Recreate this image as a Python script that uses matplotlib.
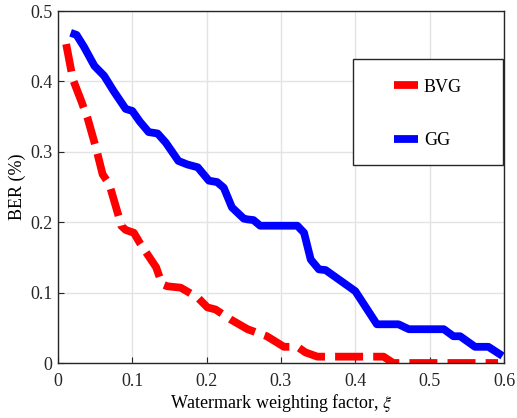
import numpy as np
import matplotlib
matplotlib.use("Agg")
import matplotlib.pyplot as plt
from matplotlib.patches import Rectangle
from matplotlib.lines import Line2D

# datos
gg_x = [0.017, 0.025, 0.035, 0.049, 0.062, 0.075, 0.091, 0.100, 0.110, 0.122, 0.134,
        0.145, 0.162, 0.174, 0.188, 0.203, 0.214, 0.223, 0.234, 0.250, 0.255, 0.263,
        0.272, 0.300, 0.322, 0.331, 0.340, 0.351, 0.360, 0.380, 0.400, 0.429, 0.458,
        0.472, 0.519, 0.532, 0.541, 0.561, 0.579, 0.598]
gg_y = [0.469, 0.466, 0.449, 0.422, 0.408, 0.386, 0.361, 0.358, 0.343, 0.328, 0.326,
        0.313, 0.287, 0.282, 0.278, 0.259, 0.257, 0.249, 0.221, 0.205, 0.204, 0.203,
        0.195, 0.195, 0.195, 0.185, 0.147, 0.133, 0.132, 0.117, 0.102, 0.055, 0.055,
        0.048, 0.048, 0.038, 0.038, 0.023, 0.023, 0.010]

bvg_x = [0.011, 0.020, 0.031, 0.040, 0.051, 0.060, 0.069, 0.082, 0.085, 0.091, 0.102,
         0.111, 0.132, 0.140, 0.147, 0.165, 0.188, 0.201, 0.212, 0.232, 0.255, 0.281,
         0.304, 0.322, 0.333, 0.349, 0.438, 0.451, 0.592]
bvg_y = [0.453, 0.403, 0.373, 0.347, 0.306, 0.268, 0.254, 0.207, 0.195, 0.189, 0.185,
         0.169, 0.136, 0.112, 0.109, 0.107, 0.093, 0.079, 0.076, 0.062, 0.048, 0.038,
         0.023, 0.023, 0.015, 0.009, 0.009, 0.000, 0.000]

x_ticks = [0, 0.1, 0.2, 0.3, 0.4, 0.5, 0.6]
x_labels = ["0", "0.1", "0.2", "0.3", "0.4", "0.5", "0.6"]
y_ticks = [0, 0.1, 0.2, 0.3, 0.4, 0.5]
y_labels = ["0", "0.1", "0.2", "0.3", "0.4", "0.5"]

plt.rcParams["font.family"] = ["Liberation Serif", "DejaVu Serif"]
plt.rcParams["mathtext.fontset"] = "stix"

fig = plt.figure(figsize=(5.17, 4.18), dpi=100)
ax = fig.add_axes([58 / 517, 1 - 363 / 418, 446 / 517, 352 / 418])

ax.plot(bvg_x, bvg_y, color="red", linewidth=5.6, linestyle=(0, (3.6, 1.3)),
        dash_capstyle="butt", solid_joinstyle="round")
ax.plot(gg_x, gg_y, color="blue", linewidth=5.6, solid_joinstyle="round",
        solid_capstyle="butt")

ax.set_xlim(0, 0.6)
ax.set_ylim(0, 0.5)
ax.set_xticks(x_ticks)
ax.set_xticklabels(x_labels)
ax.set_yticks(y_ticks)
ax.set_yticklabels(y_labels)
ax.tick_params(direction="in", length=4, labelsize=13, colors="#262626", width=0.8)
ax.tick_params(axis="x", pad=7)
ax.tick_params(axis="y", pad=4)
ax.grid(True, color="#e3e3e3", linewidth=1)
ax.set_axisbelow(True)
for s in ax.spines.values():
    s.set_color("#262626")
    s.set_linewidth(1)

ax.set_xlabel(r"Watermark weighting factor, $\xi$", fontsize=13, labelpad=2)
ax.set_ylabel("BER (%)", fontsize=13, labelpad=3)

# caja de la leyenda
caja = Rectangle((0.661, 0.5625), 0.337, 0.301, transform=ax.transAxes,
                 facecolor="white", edgecolor="#262626", linewidth=1, zorder=5)
ax.add_patch(caja)
h1 = Line2D([], [], color="red", linewidth=5.6, solid_capstyle="butt")
h2 = Line2D([], [], color="blue", linewidth=5.6, solid_capstyle="butt")
leg = ax.legend(handles=[h1, h2], labels=["BVG", "GG"], loc="center",
                bbox_to_anchor=(0.83, 0.708), frameon=False, fontsize=13,
                handlelength=1.3, handletextpad=0.35, labelspacing=2.0)
leg.set_zorder(6)

fig.savefig("out.png", dpi=100)
